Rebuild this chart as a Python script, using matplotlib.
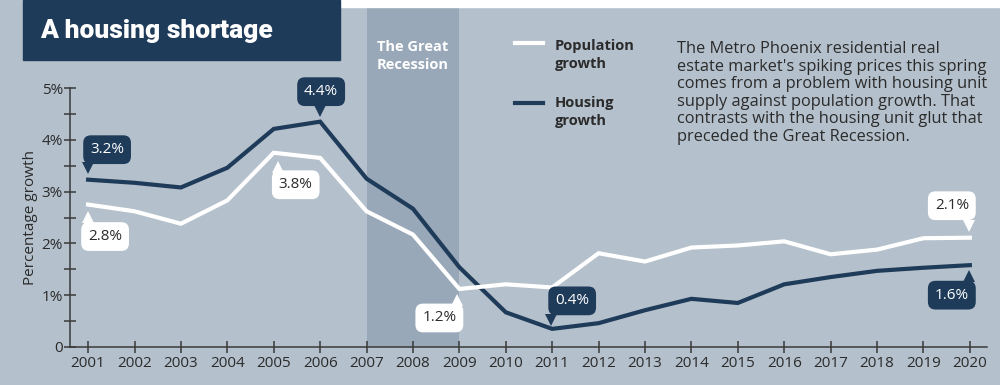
import matplotlib.pyplot as plt
from matplotlib.patches import Rectangle
from matplotlib.transforms import offset_copy, blended_transform_factory

# Data
years = list(range(2001, 2021))
population = [2.75, 2.62, 2.38, 2.83, 3.75, 3.65, 2.62, 2.17, 1.12, 1.21,
              1.15, 1.81, 1.65, 1.92, 1.96, 2.04, 1.79, 1.88, 2.10, 2.11]
housing = [3.23, 3.17, 3.08, 3.46, 4.21, 4.35, 3.25, 2.67, 1.54, 0.67,
           0.35, 0.46, 0.71, 0.93, 0.85, 1.21, 1.35, 1.47, 1.53, 1.58]

y_ticks = [0, 1, 2, 3, 4, 5]
y_tick_labels = ["0", "1%", "2%", "3%", "4%", "5%"]

# callouts: (series, year, label, box offset px, pointer offset px, pointer marker)
callouts = [
    ("housing", 2001, "3.2%", (19, 30), (0, 12), "v"),
    ("housing", 2006, "4.4%", (1, 30), (0, 11), "v"),
    ("population", 2001, "2.8%", (17, -32), (0, -12), "^"),
    ("population", 2005, "3.8%", (22, -32), (4, -14), "^"),
    ("population", 2009, "1.2%", (-20, -29), (-2, -11), "^"),
    ("housing", 2011, "0.4%", (20, 28), (-1, 9), "v"),
    ("population", 2020, "2.1%", (-18, 32), (-1, 12), "v"),
    ("housing", 2020, "1.6%", (-18, -30), (-1, -11), "^"),
]

blurb = ("The Metro Phoenix residential real\n"
         "estate market's spiking prices this spring\n"
         "comes from a problem with housing unit\n"
         "supply against population growth. That\n"
         "contrasts with the housing unit glut that\n"
         "preceded the Great Recession.")

navy = "#1f3b5a"
bg = "#b4c0cb"
band = "#98a8b8"
ink = "#2b2b2b"

plt.rcParams["font.family"] = ["Open Sans", "DejaVu Sans"]

fig = plt.figure(figsize=(10, 3.85), dpi=100)
fig.patch.set_facecolor(bg)

# white strip along the top and the title box
fig.patches.append(Rectangle((0.34, 1 - 7 / 385), 0.66, 7 / 385, transform=fig.transFigure,
                             color="white", zorder=0))
fig.patches.append(Rectangle((0.023, 1 - 60 / 385), 0.317, 60 / 385, transform=fig.transFigure,
                             color=navy, zorder=1))
fig.text(0.04, 1 - 31 / 385, "A housing shortage", color="white", fontsize=19,
         fontweight="black", fontstretch="condensed", family=["Roboto", "DejaVu Sans"],
         va="center", ha="left")

ax = fig.add_axes([0.07, 38 / 385, 0.917, 259 / 385])
ax.set_facecolor("none")
ax.set_xlim(2000.61, 2020.37)
ax.set_ylim(0, 5)

# Great Recession band, running up past the top of the axes
trans = blended_transform_factory(ax.transData, ax.transAxes)
ax.add_patch(Rectangle((2007, 0), 2, (347 - 8) / 259, transform=trans, color=band,
                       clip_on=False, zorder=0, lw=0))
ax.text(2008, (347 - 56) / 259, "The Great\nRecession", transform=trans, color="white",
        fontsize=10.5, fontweight="bold", ha="center", va="center", linespacing=1.3)

ax.plot(years, housing, color=navy, lw=3, zorder=3, solid_joinstyle="miter", clip_on=False)
ax.plot(years, population, color="white", lw=3, zorder=3, solid_joinstyle="miter", clip_on=False)

series = {"population": population, "housing": housing}
for name, yr, label, (bx, by), (px, py), mk in callouts:
    val = series[name][years.index(yr)]
    if name == "housing":
        face, txt = navy, "white"
    else:
        face, txt = "white", ink
    ax.annotate(label, (yr, val), xytext=(bx, by), textcoords="offset pixels",
                ha="center", va="center", fontsize=11, color=txt, zorder=6,
                bbox=dict(boxstyle="round,pad=0.45,rounding_size=0.5", fc=face, ec="none"))
    ax.plot([yr], [val], marker=mk, ms=8, color=face, mew=0, zorder=6, clip_on=False,
            transform=offset_copy(ax.transData, fig=fig, x=px, y=py, units="dots"))

# legend drawn by hand
ax.plot([2010.2, 2010.8], [(347 - 43) / 259] * 2, transform=trans,
        color="white", lw=3, clip_on=False)
ax.text(2011.05, (347 - 55) / 259, "Population\ngrowth", transform=trans, color=ink,
        fontsize=10.5, fontweight="bold", va="center", ha="left", linespacing=1.3)
ax.plot([2010.2, 2010.8], [(347 - 103) / 259] * 2, transform=trans,
        color=navy, lw=3, clip_on=False)
ax.text(2011.05, (347 - 112) / 259, "Housing\ngrowth", transform=trans, color=ink,
        fontsize=10.5, fontweight="bold", va="center", ha="left", linespacing=1.3)

fig.text(0.677, 1 - 41 / 385, blurb, color=ink, fontsize=11.8, va="top", ha="left",
         linespacing=1.13)

# axes styling
for side in ["top", "right"]:
    ax.spines[side].set_visible(False)
for side in ["left", "bottom"]:
    ax.spines[side].set_color("#3a3a3a")
    ax.spines[side].set_linewidth(1.1)
ax.set_xticks(years)
ax.set_xticklabels([str(y) for y in years])
ax.set_yticks(y_ticks)
ax.set_yticklabels(y_tick_labels)
ax.set_yticks([0.5, 1.5, 2.5, 3.5, 4.5], minor=True)
ax.tick_params(axis="both", which="both", direction="inout", color="#3a3a3a", width=1.1,
               labelcolor=ink, labelsize=11)
ax.tick_params(axis="x", which="major", length=9, pad=2)
ax.tick_params(axis="y", which="both", length=8, pad=1)
ax.set_ylabel("Percentage growth", color=ink, fontsize=11, labelpad=3)

plt.savefig("out.png", dpi=100, facecolor=fig.get_facecolor())
